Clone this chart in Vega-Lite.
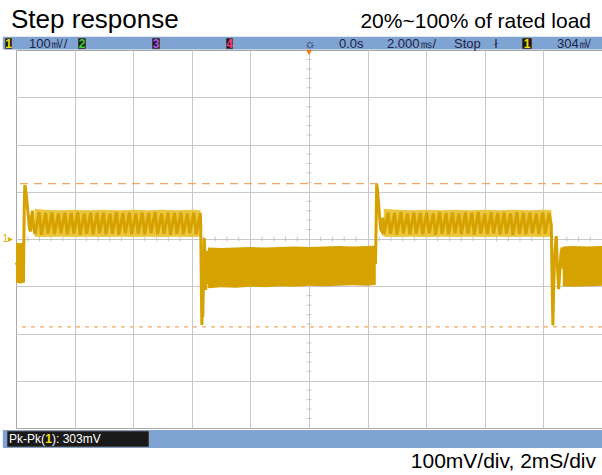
{
  "$schema": "https://vega.github.io/schema/vega-lite/v6.json",
  "width": 586,
  "height": 378,
  "autosize": "none",
  "padding": {"left": 16, "top": 50, "right": 0, "bottom": 47},
  "background": "white",
  "config": {
    "view": {"stroke": "#a8a8a8", "strokeWidth": 1},
    "axis": {"labels": false, "ticks": false, "domain": false, "grid": true, "gridColor": "#c8c8c8", "gridWidth": 1, "gridOpacity": 1}
  },
  "layer": [
    {
      "data": {"values": [{"t":-9.6},{"t":-9.2},{"t":-8.8},{"t":-8.4},{"t":-7.6},{"t":-7.2},{"t":-6.8},{"t":-6.4},{"t":-5.6},{"t":-5.2},{"t":-4.8},{"t":-4.4},{"t":-3.6},{"t":-3.2},{"t":-2.8},{"t":-2.4},{"t":-1.6},{"t":-1.2},{"t":-0.8},{"t":-0.4},{"t":0.4},{"t":0.8},{"t":1.2},{"t":1.6},{"t":2.4},{"t":2.8},{"t":3.2},{"t":3.6},{"t":4.4},{"t":4.8},{"t":5.2},{"t":5.6},{"t":6.4},{"t":6.8},{"t":7.2},{"t":7.6},{"t":8.4},{"t":8.8},{"t":9.2},{"t":9.6}]},
      "mark": {"type": "tick", "orient": "vertical", "size": 5, "thickness": 1, "color": "#b4b4b4"},
      "encoding": {
        "x": {"field": "t", "type": "quantitative", "title": null, "scale": {"domain": [-10, 10], "nice": false, "zero": false}, "axis": {"values": [-8, -6, -4, -2, 0, 2, 4, 6, 8], "title": null}},
        "y": {"datum": 0, "type": "quantitative", "title": null, "scale": {"domain": [-400, 400], "nice": false, "zero": false}, "axis": {"values": [-300, -200, -100, 0, 100, 200, 300], "title": null}}
      }
    },
    {
      "data": {"values": [{"v":-380},{"v":-360},{"v":-340},{"v":-320},{"v":-280},{"v":-260},{"v":-240},{"v":-220},{"v":-180},{"v":-160},{"v":-140},{"v":-120},{"v":-80},{"v":-60},{"v":-40},{"v":-20},{"v":20},{"v":40},{"v":60},{"v":80},{"v":120},{"v":140},{"v":160},{"v":180},{"v":220},{"v":240},{"v":260},{"v":280},{"v":320},{"v":340},{"v":360},{"v":380}]},
      "mark": {"type": "tick", "orient": "horizontal", "size": 5, "thickness": 1, "color": "#b4b4b4"},
      "encoding": {
        "x": {"datum": 0, "type": "quantitative", "title": null},
        "y": {"field": "v", "type": "quantitative", "title": null}
      }
    },
    {
      "data": {"values": [{"v": 117}]},
      "mark": {"type": "rule", "color": "#f3a862", "strokeWidth": 1.2, "strokeDash": [8, 6]},
      "encoding": {"y": {"field": "v", "type": "quantitative", "title": null}}
    },
    {
      "data": {"values": [{"v": -186}]},
      "mark": {"type": "rule", "color": "#f3a862", "strokeWidth": 1.2, "strokeDash": [4, 5]},
      "encoding": {"y": {"field": "v", "type": "quantitative", "title": null}}
    },
    {
      "data": {"values": [
        {"seg":"U1","t":-9.36,"hi":64,"lo":5},{"seg":"U1","t":-9.0,"hi":62,"lo":4},{"seg":"U1","t":-8.5,"hi":61,"lo":5},{"seg":"U1","t":-8.0,"hi":62,"lo":4},{"seg":"U1","t":-7.5,"hi":61,"lo":5},{"seg":"U1","t":-7.0,"hi":62,"lo":4},{"seg":"U1","t":-6.5,"hi":61,"lo":5},{"seg":"U1","t":-6.0,"hi":62,"lo":4},{"seg":"U1","t":-5.5,"hi":61,"lo":5},{"seg":"U1","t":-5.0,"hi":62,"lo":4},{"seg":"U1","t":-4.5,"hi":61,"lo":5},{"seg":"U1","t":-4.0,"hi":62,"lo":4},{"seg":"U1","t":-3.70,"hi":61,"lo":5},
        {"seg":"U2","t":2.55,"hi":64,"lo":5},{"seg":"U2","t":3.0,"hi":62,"lo":4},{"seg":"U2","t":3.5,"hi":61,"lo":5},{"seg":"U2","t":4.0,"hi":62,"lo":4},{"seg":"U2","t":4.5,"hi":61,"lo":5},{"seg":"U2","t":5.0,"hi":62,"lo":4},{"seg":"U2","t":5.5,"hi":61,"lo":5},{"seg":"U2","t":6.0,"hi":62,"lo":4},{"seg":"U2","t":6.5,"hi":61,"lo":5},{"seg":"U2","t":7.0,"hi":62,"lo":4},{"seg":"U2","t":7.5,"hi":61,"lo":5},{"seg":"U2","t":8.0,"hi":62,"lo":4},{"seg":"U2","t":8.27,"hi":61,"lo":5}
      ]},
      "mark": {"type": "area", "color": "#ebc640", "opacity": 1},
      "encoding": {
        "x": {"field": "t", "type": "quantitative", "title": null},
        "y": {"field": "hi", "type": "quantitative", "title": null},
        "y2": {"field": "lo"},
        "detail": {"field": "seg"}
      }
    },
    {
      "data": {"values": [
        {"seg":"L1","t":-10,"hi":-8,"lo":-92},{"seg":"L1","t":-9.87,"hi":-9,"lo":-94},{"seg":"L1","t":-9.74,"hi":-8,"lo":-93},
        {"seg":"L2","t":-3.45,"hi":-18,"lo":-104},{"seg":"L2","t":-3.0,"hi":-19,"lo":-102},{"seg":"L2","t":-2.5,"hi":-18,"lo":-103},{"seg":"L2","t":-2.0,"hi":-17,"lo":-101},{"seg":"L2","t":-1.5,"hi":-18,"lo":-102},{"seg":"L2","t":-1.0,"hi":-17,"lo":-100},{"seg":"L2","t":-0.5,"hi":-16,"lo":-101},{"seg":"L2","t":0.0,"hi":-17,"lo":-99},{"seg":"L2","t":0.5,"hi":-16,"lo":-100},{"seg":"L2","t":1.0,"hi":-15,"lo":-99},{"seg":"L2","t":1.5,"hi":-16,"lo":-98},{"seg":"L2","t":2.0,"hi":-15,"lo":-99},{"seg":"L2","t":2.28,"hi":-14,"lo":-97},
        {"seg":"L3","t":8.66,"hi":-16,"lo":-100},{"seg":"L3","t":9.0,"hi":-15,"lo":-101},{"seg":"L3","t":9.5,"hi":-16,"lo":-100},{"seg":"L3","t":10.0,"hi":-15,"lo":-99}
      ]},
      "mark": {"type": "area", "color": "#d6a200", "opacity": 1},
      "encoding": {
        "x": {"field": "t", "type": "quantitative", "title": null},
        "y": {"field": "hi", "type": "quantitative", "title": null},
        "y2": {"field": "lo"},
        "detail": {"field": "seg"}
      }
    },
    {
      "data": {"values": [
        {"t":-10,"v":-50},{"t":-9.9,"v":-60},{"t":-9.8,"v":-45},{"t":-9.745,"v":-92},{"t":-9.735,"v":-20},{"t":-9.72,"v":60},{"t":-9.70,"v":114},{"t":-9.68,"v":110},{"t":-9.64,"v":88},{"t":-9.59,"v":55},{"t":-9.54,"v":22},{"t":-9.50,"v":16},{"t":-9.47,"v":48},{"t":-9.44,"v":60},{"t":-9.40,"v":28},{"t":-9.37,"v":16},
        {"t":-9.35,"v":10},{"t":-9.21,"v":57},{"t":-9.13,"v":9},{"t":-8.99,"v":55},{"t":-8.91,"v":11},{"t":-8.77,"v":56},{"t":-8.69,"v":10},{"t":-8.55,"v":54},{"t":-8.47,"v":12},{"t":-8.33,"v":56},{"t":-8.25,"v":10},{"t":-8.11,"v":55},{"t":-8.03,"v":11},{"t":-7.89,"v":57},{"t":-7.81,"v":9},{"t":-7.67,"v":54},{"t":-7.59,"v":11},{"t":-7.45,"v":56},{"t":-7.37,"v":10},{"t":-7.23,"v":55},{"t":-7.15,"v":12},{"t":-7.01,"v":56},{"t":-6.93,"v":10},{"t":-6.79,"v":54},{"t":-6.71,"v":11},{"t":-6.57,"v":57},{"t":-6.49,"v":9},{"t":-6.35,"v":55},{"t":-6.27,"v":12},{"t":-6.13,"v":56},{"t":-6.05,"v":10},{"t":-5.91,"v":54},{"t":-5.83,"v":11},{"t":-5.69,"v":56},{"t":-5.61,"v":10},{"t":-5.47,"v":55},{"t":-5.39,"v":12},{"t":-5.25,"v":57},{"t":-5.17,"v":10},{"t":-5.03,"v":54},{"t":-4.95,"v":11},{"t":-4.81,"v":56},{"t":-4.73,"v":9},{"t":-4.59,"v":55},{"t":-4.51,"v":11},{"t":-4.37,"v":56},{"t":-4.29,"v":10},{"t":-4.15,"v":54},{"t":-4.07,"v":12},{"t":-3.93,"v":56},{"t":-3.85,"v":10},{"t":-3.71,"v":55},
        {"t":-3.695,"v":30},{"t":-3.68,"v":-70},{"t":-3.665,"v":-150},{"t":-3.655,"v":-182},{"t":-3.64,"v":-130},{"t":-3.625,"v":-165},{"t":-3.60,"v":-80},{"t":-3.575,"v":2},{"t":-3.55,"v":-45},{"t":-3.525,"v":-108},{"t":-3.50,"v":-60},{"t":-3.47,"v":-25},{"t":-3.44,"v":-95},{"t":-3.41,"v":-40},
        {"t":-2,"v":-60},{"t":0,"v":-55},{"t":2.27,"v":-50},
        {"t":2.28,"v":-14},{"t":2.295,"v":50},{"t":2.31,"v":116},{"t":2.33,"v":108},{"t":2.37,"v":80},{"t":2.41,"v":45},{"t":2.45,"v":20},{"t":2.49,"v":16},{"t":2.52,"v":45},{"t":2.54,"v":30},
        {"t":2.56,"v":10},{"t":2.70,"v":56},{"t":2.78,"v":11},{"t":2.92,"v":55},{"t":3.00,"v":9},{"t":3.14,"v":57},{"t":3.22,"v":12},{"t":3.36,"v":54},{"t":3.44,"v":10},{"t":3.58,"v":56},{"t":3.66,"v":11},{"t":3.80,"v":55},{"t":3.88,"v":10},{"t":4.02,"v":56},{"t":4.10,"v":12},{"t":4.24,"v":54},{"t":4.32,"v":9},{"t":4.46,"v":57},{"t":4.54,"v":11},{"t":4.68,"v":55},{"t":4.76,"v":10},{"t":4.90,"v":56},{"t":4.98,"v":12},{"t":5.12,"v":54},{"t":5.20,"v":10},{"t":5.34,"v":56},{"t":5.42,"v":11},{"t":5.56,"v":55},{"t":5.64,"v":9},{"t":5.78,"v":57},{"t":5.86,"v":11},{"t":6.00,"v":54},{"t":6.08,"v":10},{"t":6.22,"v":56},{"t":6.30,"v":12},{"t":6.44,"v":55},{"t":6.52,"v":10},{"t":6.66,"v":56},{"t":6.74,"v":11},{"t":6.88,"v":54},{"t":6.96,"v":9},{"t":7.10,"v":57},{"t":7.18,"v":11},{"t":7.32,"v":55},{"t":7.40,"v":10},{"t":7.54,"v":56},{"t":7.62,"v":12},{"t":7.76,"v":54},{"t":7.84,"v":10},{"t":7.98,"v":56},{"t":8.06,"v":11},{"t":8.20,"v":55},
        {"t":8.27,"v":30},{"t":8.29,"v":-60},{"t":8.31,"v":-140},{"t":8.325,"v":-183},{"t":8.345,"v":-120},{"t":8.37,"v":-60},{"t":8.40,"v":-20},{"t":8.44,"v":6},{"t":8.48,"v":-60},{"t":8.52,"v":-106},{"t":8.56,"v":-70},{"t":8.60,"v":-30},{"t":8.64,"v":-18},{"t":8.68,"v":-60},{"t":10,"v":-58}
      ]},
      "mark": {"type": "line", "color": "#d6a200", "strokeWidth": 3},
      "encoding": {
        "x": {"field": "t", "type": "quantitative", "title": null},
        "y": {"field": "v", "type": "quantitative", "title": null}
      }
    },
    {
      "data": {"values": [{"t":-10.45,"t2":10,"v":428,"v2":401},{"t":-10.45,"t2":10,"v":-404.2,"v2":-442.3}]},
      "mark": {"type": "rect", "color": "#7fa3d2"},
      "encoding": {
        "x": {"field": "t", "type": "quantitative", "title": null}, "x2": {"field": "t2"},
        "y": {"field": "v", "type": "quantitative", "title": null}, "y2": {"field": "v2"}
      }
    },
    {
      "data": {"values": [
        {"t":-10.375,"t2":-10.137,"v":425.4,"v2":402.1},{"t":-7.884,"t2":-7.611,"v":425.4,"v2":402.1},{"t":-5.358,"t2":-5.085,"v":425.4,"v2":402.1},{"t":-2.833,"t2":-2.594,"v":425.4,"v2":402.1},{"t":7.270,"t2":7.611,"v":425.4,"v2":402.1},
        {"t":-10.307,"t2":-5.461,"v":-406.3,"v2":-440.2}
      ]},
      "mark": {"type": "rect", "color": "#1a1a1a", "stroke": "#9a9a9a", "strokeWidth": 0.6},
      "encoding": {
        "x": {"field": "t", "type": "quantitative", "title": null}, "x2": {"field": "t2"},
        "y": {"field": "v", "type": "quantitative", "title": null}, "y2": {"field": "v2"}
      }
    },
    {
      "data": {"values": [
        {"t":-10.256,"v":413.7,"label":"1","ch":"1"},{"t":-7.748,"v":413.7,"label":"2","ch":"2"},{"t":-5.222,"v":413.7,"label":"3","ch":"3"},{"t":-2.714,"v":413.7,"label":"4","ch":"4"},{"t":7.44,"v":413.7,"label":"1","ch":"1"},{"t":-8.891,"v":-424.3,"label":"1","ch":"1"}
      ]},
      "mark": {"type": "text", "font": "Liberation Sans", "fontSize": 12, "fontWeight": "bold", "align": "center", "baseline": "middle"},
      "encoding": {
        "x": {"field": "t", "type": "quantitative", "title": null},
        "y": {"field": "v", "type": "quantitative", "title": null},
        "text": {"field": "label"},
        "color": {"field": "ch", "type": "nominal", "legend": null, "scale": {"domain": ["1", "2", "3", "4"], "range": ["#f2e200", "#3cd03c", "#b458f5", "#ff3c8c"]}}
      }
    },
    {
      "data": {"values": [
        {"t":-9.556,"v":413.7,"label":"100㎷/"},{"t":-0.17,"v":413.7,"label":"☼"},{"t":1.024,"v":413.7,"label":"0.0s"},{"t":2.662,"v":413.7,"label":"2.000㎳/"},{"t":4.949,"v":413.7,"label":"Stop"},{"t":6.33,"v":413.7,"label":"ł"},{"t":8.464,"v":413.7,"label":"304㎷"}
      ]},
      "mark": {"type": "text", "font": "Liberation Sans", "fontSize": 13, "color": "#1e2448", "align": "left", "baseline": "middle"},
      "encoding": {
        "x": {"field": "t", "type": "quantitative", "title": null},
        "y": {"field": "v", "type": "quantitative", "title": null},
        "text": {"field": "label"}
      }
    },
    {
      "data": {"values": [{"t":-10.24,"v":-424.3,"label":"Pk-Pk("},{"t":-8.771,"v":-424.3,"label":"): 303mV"}]},
      "mark": {"type": "text", "font": "Liberation Sans", "fontSize": 12, "color": "#ffffff", "align": "left", "baseline": "middle"},
      "encoding": {
        "x": {"field": "t", "type": "quantitative", "title": null},
        "y": {"field": "v", "type": "quantitative", "title": null},
        "text": {"field": "label"}
      }
    },
    {
      "data": {"values": [{"t":-10.17,"v":446.6,"label":"Step response"}]},
      "mark": {"type": "text", "font": "Liberation Sans", "fontSize": 26, "color": "#000000", "align": "left", "baseline": "alphabetic"},
      "encoding": {
        "x": {"field": "t", "type": "quantitative", "title": null},
        "y": {"field": "v", "type": "quantitative", "title": null},
        "text": {"field": "label"}
      }
    },
    {
      "data": {"values": [{"t":9.625,"v":446.6,"label":"20%~100% of rated load"},{"t":9.795,"v":-485,"label":"100mV/div, 2mS/div"}]},
      "mark": {"type": "text", "font": "Liberation Sans", "fontSize": 21, "color": "#000000", "align": "right", "baseline": "alphabetic"},
      "encoding": {
        "x": {"field": "t", "type": "quantitative", "title": null},
        "y": {"field": "v", "type": "quantitative", "title": null},
        "text": {"field": "label"}
      }
    },
    {
      "data": {"values": [{"t":-10.46,"v":0,"label":"1▸"}]},
      "mark": {"type": "text", "font": "Liberation Sans", "fontSize": 10, "color": "#dcb000", "align": "left", "baseline": "middle"},
      "encoding": {
        "x": {"field": "t", "type": "quantitative", "title": null},
        "y": {"field": "v", "type": "quantitative", "title": null},
        "text": {"field": "label"}
      }
    },
    {
      "data": {"values": [{"t":0,"v":395}]},
      "mark": {"type": "point", "shape": "triangle-down", "filled": true, "color": "#f07a14", "size": 35, "opacity": 1},
      "encoding": {
        "x": {"field": "t", "type": "quantitative", "title": null},
        "y": {"field": "v", "type": "quantitative", "title": null}
      }
    }
  ]
}
